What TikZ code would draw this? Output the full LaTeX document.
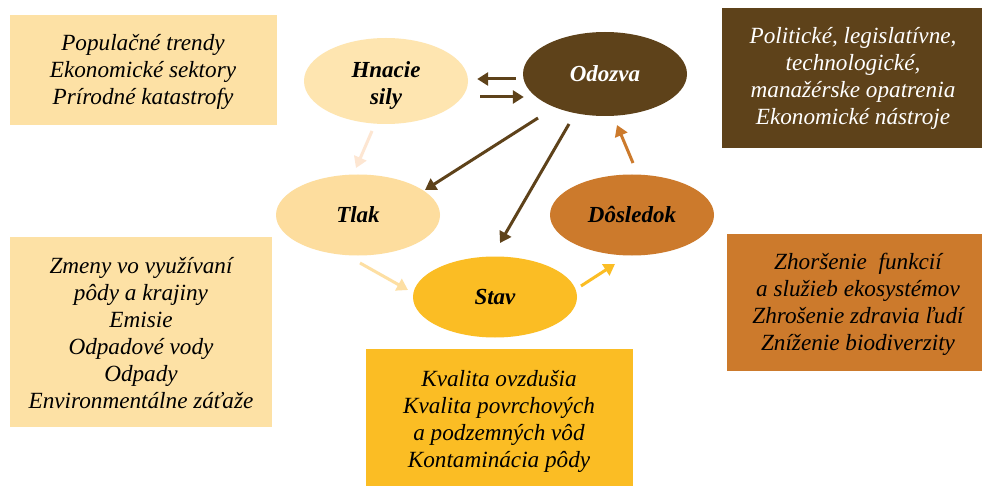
\documentclass[tikz,border=0pt]{standalone}
\usepackage{fontspec}
\setmainfont{Liberation Serif}
\usetikzlibrary{arrows.meta,shapes.geometric}
\definecolor{lightbox}{HTML}{FDE1A5}
\definecolor{hnacie}{HTML}{FEE5B0}
\definecolor{tlak}{HTML}{FDDD9E}
\definecolor{stav}{HTML}{FBBD24}
\definecolor{dosl}{HTML}{CC7A2C}
\definecolor{odoz}{HTML}{5E421A}
\definecolor{palearr}{HTML}{FDE6D2}
\definecolor{tlakarr}{HTML}{FDDFA3}
\tikzset{
  txt/.style={font=\fontsize{23.2}{27}\selectfont\itshape, align=center, inner sep=0pt},
  ell/.style={ellipse, minimum width=164pt, inner sep=0pt, font=\fontsize{23}{27}\selectfont\bfseries\itshape, align=center},
  lbl/.style={inner sep=0pt, font=\fontsize{23}{27}\selectfont\bfseries\itshape, align=center},
  arr/.style={line width=3pt, -{Triangle[length=11pt,width=13pt]}}
}
\begin{document}
\begin{tikzpicture}[x=1pt,y=-1pt]
\useasboundingbox[fill=white] (0,0) rectangle (982,489);
% boxes
\fill[lightbox] (10,15) rectangle (277,125);
\node[txt] (b1) at (143,72) {Populačné trendy\\Ekonomické sektory\\Prírodné katastrofy};
\fill[odoz] (722,8) rectangle (982,148);
\node[txt,text=white] (b2) at (853,78) {Politické, legislatívne,\\technologické,\\manažérske opatrenia\\Ekonomické nástroje};
\fill[lightbox] (10,237) rectangle (272,427);
\node[txt] (b3) at (141,333) {Zmeny vo využívaní\\pôdy a krajiny\\Emisie\\Odpadové vody\\Odpady\\Environmentálne záťaže};
\fill[dosl] (727,234) rectangle (982,371);
\node[txt] (b4) at (858,304) {Zhoršenie\ \ funkcií\\a služieb ekosystémov\\Zhrošenie zdravia ľudí\\Zníženie biodiverzity};
\fill[stav] (366,349) rectangle (633,486);
\node[txt] (b5) at (499,421) {Kvalita ovzdušia\\Kvalita povrchových\\a podzemných vôd\\Kontaminácia pôdy};
% ellipses
\node[ell,fill=hnacie,minimum height=86pt] (H) at (386,81) {};
\node[lbl] (Hl) at (386,86) {Hnacie\\sily};
\node[ell,fill=odoz,text=white,minimum height=84pt] (O) at (605,74) {Odozva};
\node[ell,fill=tlak,minimum height=81pt] (T) at (358,215) {Tlak};
\node[ell,fill=dosl,minimum height=81pt] (D) at (632,215) {Dôsledok};
\node[ell,fill=stav,minimum height=81pt] (S) at (495,297) {Stav};
% arrows
\draw[arr,odoz] ([shift={(-7,5)}]O.west) -- ([shift={(9,-2)}]H.east);
\draw[arr,odoz] ([shift={(12,16)}]H.east) -- ([shift={(1,23)}]O.west);
\draw[arr,palearr] ([shift={(-14,50)}]H.center) -- ([shift={(-2,-47)}]T.center);
\draw[arr,odoz] ([shift={(-67,44)}]O.center) -- ([shift={(67,-25)}]T.center);
\draw[arr,odoz] ([shift={(-36,50)}]O.center) -- ([shift={(5,-54)}]S.center);
\draw[arr,dosl] ([shift={(1,-52)}]D.center) -- ([shift={(12,51)}]O.center);
\draw[arr,tlakarr] ([shift={(2,48)}]T.center) -- ([shift={(-87,-7)}]S.center);
\draw[arr,stav] ([shift={(86,-11)}]S.center) -- ([shift={(-17,49)}]D.center);
\end{tikzpicture}
\end{document}
